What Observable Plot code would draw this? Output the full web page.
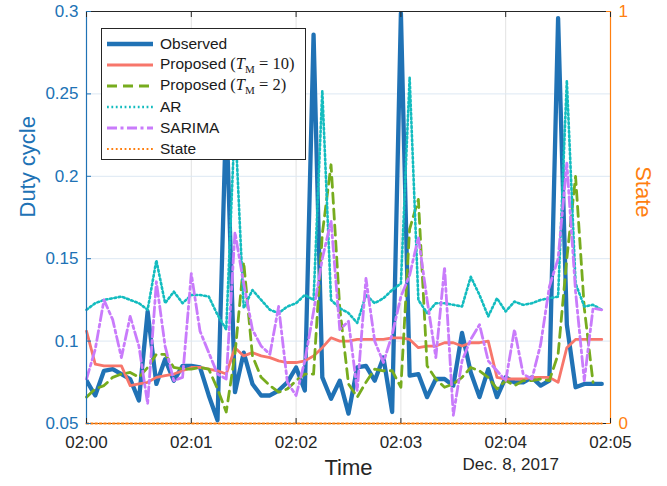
<!DOCTYPE html>
<html>
<head>
<meta charset="utf-8">
<script src="https://cdn.jsdelivr.net/npm/d3@7"></script>
<script src="https://cdn.jsdelivr.net/npm/@observablehq/plot@0.6"></script>
<style>
  html, body { margin: 0; padding: 0; background: #fff; }
  #wrap { position: relative; width: 667px; height: 486px; font-family: "Liberation Sans", Arial, sans-serif; }
  #legend { position: absolute; left: 101px; top: 28px; width: 205px; height: 132px; border: 1px solid #262626; background: #fff; box-sizing: border-box; padding-top: 4px; }
  .row { height: 21px; display: flex; align-items: center; font-size: 15.5px; color: #1a1a1a; white-space: nowrap; }
  .row svg { margin-left: 4px; margin-right: 6px; flex: none; }
  .m { font-family: "Liberation Serif", "DejaVu Serif", serif; font-size: 16.5px; margin-left: 4px; }
  .m sub { font-size: 11px; font-style: normal; }
</style>
</head>
<body>
<div id="wrap"><div id="chart"></div><div id="legend"></div></div>
<script>
// ---- data (5-second samples from 02:00:00, Dec. 8, 2017) ----
const startTime = Date.UTC(2017, 11, 8, 2, 0, 0);
const stepMs = 5000;

const observed = [0.076,0.067,0.082,0.083,0.080,0.077,0.064,0.118,0.074,0.089,
  0.076,0.085,0.085,0.084,0.067,0.052,0.240,0.069,0.093,0.074,
  0.067,0.067,0.070,0.075,0.084,0.070,0.286,0.078,0.065,0.076,
  0.056,0.084,0.085,0.076,0.090,0.057,0.299,0.079,0.080,0.066,
  0.077,0.077,0.073,0.105,0.081,0.066,0.083,0.066,0.078,0.075,
  0.075,0.078,0.073,0.076,0.296,0.110,0.072,0.074,0.074,0.074];

const proposedTM10 = [0.106,0.086,0.085,0.085,0.085,0.073,0.074,0.075,0.078,0.079,
  0.080,0.082,0.084,0.084,0.083,0.082,0.080,0.096,0.091,0.093,
  0.091,0.090,0.088,0.087,0.087,0.088,0.091,0.096,0.102,0.100,
  0.100,0.101,0.101,0.101,0.101,0.102,0.102,0.101,0.096,0.097,
  0.097,0.099,0.099,0.097,0.099,0.099,0.100,0.078,0.077,0.077,
  0.077,0.078,0.078,0.078,0.075,0.096,0.101,0.101,0.101,0.101];

const proposedTM2 = [0.066,0.071,0.073,0.078,0.080,0.081,0.078,0.084,0.092,0.092,
  0.084,0.083,0.083,0.084,0.083,0.071,0.057,0.092,0.148,0.091,
  0.078,0.073,0.069,0.071,0.076,0.080,0.080,0.165,0.207,0.120,
  0.074,0.066,0.075,0.083,0.082,0.082,0.072,0.168,0.186,0.085,
  0.077,0.072,0.074,0.078,0.084,0.082,0.078,0.071,0.076,0.073,
  0.076,0.076,0.077,0.076,0.092,0.150,0.200,0.120,0.075];

const ar = [0.119,0.123,0.125,0.126,0.127,0.125,0.123,0.119,0.149,0.123,
  0.130,0.123,0.128,0.128,0.127,0.116,0.107,0.235,0.120,0.131,
  0.125,0.119,0.117,0.121,0.123,0.128,0.125,0.252,0.125,0.120,
  0.117,0.111,0.128,0.123,0.126,0.131,0.135,0.260,0.125,0.117,
  0.123,0.123,0.122,0.121,0.139,0.128,0.115,0.126,0.118,0.124,
  0.122,0.123,0.125,0.126,0.127,0.258,0.135,0.121,0.122,0.119];

const sarima = [0.077,0.095,0.125,0.113,0.090,0.115,0.097,0.062,0.136,0.097,
  0.076,0.078,0.141,0.106,0.093,0.080,0.077,0.166,0.135,0.107,
  0.097,0.092,0.121,0.075,0.067,0.088,0.118,0.150,0.173,0.107,
  0.112,0.070,0.138,0.100,0.087,0.104,0.127,0.140,0.163,0.125,
  0.090,0.145,0.055,0.088,0.101,0.110,0.088,0.082,0.076,0.107,
  0.080,0.077,0.098,0.133,0.150,0.208,0.130,0.076,0.120,0.119];

const state = [0,0,0,0,0,0,0,0,0,0, 0,0,0,0,0,0,0,0,0,0,
  0,0,0,0,0,0,0,0,0,0, 0,0,0,0,0,0,0,0,0,0,
  0,0,0,0,0,0,0,0,0,0, 0,0,0,0,0,0,0,0,0,0];

const seriesNames = ["Observed", "Proposed (T_M = 10)", "Proposed (T_M = 2)", "AR", "SARIMA", "State"];
const yTicks = [0.05, 0.1, 0.15, 0.2, 0.25, 0.3];
const yTickLabels = ["0.05", "0.1", "0.15", "0.2", "0.25", "0.3"];
const stateTicks = [0, 1];
const stateTickLabels = ["0", "1"];
const xTickLabels = ["02:00", "02:01", "02:02", "02:03", "02:04", "02:05"];
const xTicks = xTickLabels.map((s, i) => new Date(startTime + i * 60000));

// ---- styles ----
const blue = "#2072b5", salmon = "#f7766b", green = "#77ac1e", cyan = "#13bcbf", purple = "#c97bfb", orange = "#ff7f10";
const ink = "#262626";
const dotted = "1.8,2.6";

const Y0 = 0.05, Y1 = 0.3;
const toRows = arr => arr.map((v, i) => ({t: new Date(startTime + i * stepMs), v}));
// state uses the right axis (0..1) mapped onto the left domain
const stateToY = s => Y0 + s * (Y1 - Y0);

const plot = Plot.plot({
  width: 667, height: 486,
  marginLeft: 86, marginRight: 57, marginTop: 11, marginBottom: 63,
  x: {type: "utc", domain: [xTicks[0], xTicks[xTicks.length - 1]]},
  y: {domain: [Y0, Y1]},
  style: {fontFamily: "'Liberation Sans', Arial, sans-serif", fontSize: "17px", background: "#fff", overflow: "visible"},
  marks: [
    Plot.gridX(xTicks, {stroke: "#e2e2e2", strokeOpacity: 1}),
    Plot.gridY(yTicks, {stroke: "#dde8f3", strokeOpacity: 1}),
    Plot.lineY(toRows(observed), {x: "t", y: "v", stroke: blue, strokeWidth: 4.3, strokeLinejoin: "round", clip: true}),
    Plot.lineY(toRows(proposedTM10), {x: "t", y: "v", stroke: salmon, strokeWidth: 2.8, strokeLinejoin: "round"}),
    Plot.lineY(toRows(proposedTM2), {x: "t", y: "v", stroke: green, strokeWidth: 2.8, strokeDasharray: "10,6"}),
    Plot.lineY(toRows(ar), {x: "t", y: "v", stroke: cyan, strokeWidth: 2.6, strokeDasharray: dotted}),
    Plot.lineY(toRows(sarima), {x: "t", y: "v", stroke: purple, strokeWidth: 2.8, strokeDasharray: "10,3.5,3,3.5"}),
    // frame lines
    Plot.ruleY([Y1], {stroke: ink, strokeWidth: 1}),
    Plot.ruleY([Y0], {stroke: ink, strokeWidth: 1}),
    Plot.ruleX([xTicks[0]], {stroke: blue, strokeWidth: 1.2}),
    Plot.ruleX([xTicks[xTicks.length - 1]], {stroke: orange, strokeWidth: 1.2}),
    Plot.lineY(toRows(state), {x: "t", y: d => stateToY(d.v), stroke: orange, strokeWidth: 2.2, strokeDasharray: dotted}),
    // axes
    Plot.axisX(xTicks, {anchor: "bottom", tickSize: -5, tickPadding: 17, color: ink, label: null,
      tickFormat: d => xTickLabels[xTicks.findIndex(t => +t === +d)]}),
    Plot.axisX(xTicks, {anchor: "top", tickSize: -5, color: ink, label: null, tickFormat: () => ""}),
    Plot.axisY(yTicks, {anchor: "left", tickSize: -5, tickPadding: 13, color: blue, label: null,
      tickFormat: d => yTickLabels[yTicks.indexOf(d)]}),
    Plot.axisY(stateTicks.map(stateToY), {anchor: "right", tickSize: -5, tickPadding: 13, color: orange, label: null,
      tickFormat: d => stateTickLabels[stateTicks.map(stateToY).indexOf(d)]}),
    // axis titles
    Plot.text(["Duty cycle"], {text: d => d, frameAnchor: "left", dx: -59, rotate: -90, fill: blue, fontSize: 22}),
    Plot.text(["State"], {text: d => d, frameAnchor: "right", dx: 33, rotate: 90, fill: orange, fontSize: 22}),
    Plot.text(["Time"], {text: d => d, frameAnchor: "bottom", dy: 51, fill: ink, fontSize: 22}),
    Plot.text(["Dec. 8, 2017"], {text: d => d, x: () => xTicks[4], frameAnchor: "bottom", dx: 5, dy: 46, fill: ink, fontSize: 17})
  ]
});
document.getElementById("chart").appendChild(plot);

// ---- legend ----
const legendStyles = [
  {stroke: blue, width: 4.3, dash: null},
  {stroke: salmon, width: 2.8, dash: null},
  {stroke: green, width: 2.8, dash: "10,6"},
  {stroke: cyan, width: 2.6, dash: dotted},
  {stroke: purple, width: 2.8, dash: "10,3.5,3,3.5"},
  {stroke: orange, width: 2.2, dash: dotted}
];
const fmtName = s => {
  const m = s.match(/^(.*) \(T_M = (\d+)\)$/);
  if (!m) return s;
  return `${m[1]}<span class="m">(<i>T</i><sub>M</sub> = ${m[2]})</span>`;
};
const legend = document.getElementById("legend");
seriesNames.forEach((name, i) => {
  const st = legendStyles[i];
  const row = document.createElement("div");
  row.className = "row";
  row.innerHTML = `<svg width="48" height="10"><line x1="1" y1="5" x2="47" y2="5" stroke="${st.stroke}" stroke-width="${st.width}" ${st.dash ? `stroke-dasharray="${st.dash}"` : ""}/></svg><span>${fmtName(name)}</span>`;
  legend.appendChild(row);
});
</script>
</body>
</html>
